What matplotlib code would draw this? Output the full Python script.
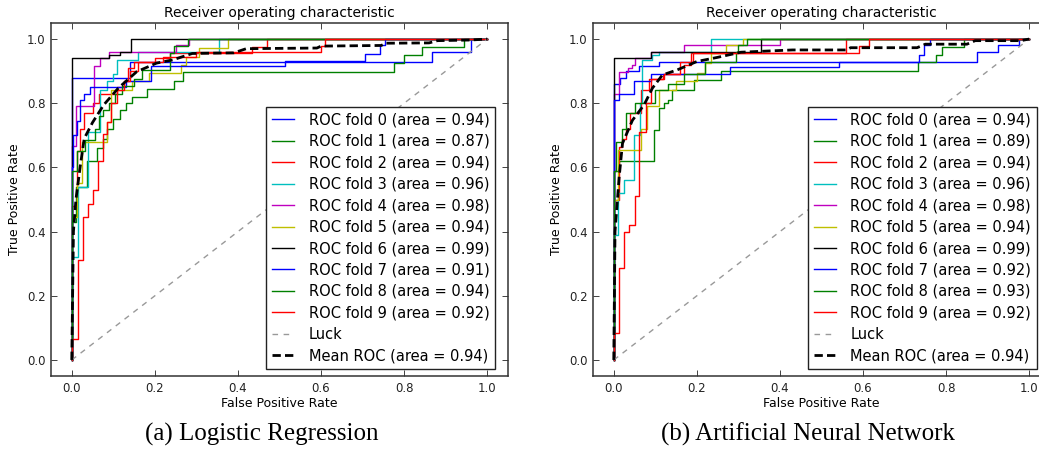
import matplotlib
matplotlib.use("Agg")
import matplotlib.pyplot as plt

W, H = 1039, 463

fold_colors = ["b", "g", "r", "c", "m", "y", "k", "b", "g", "r"]

# Logistic regression: per fold, fpr where each tpr level ends (step curves)
lr_auc = [0.94, 0.87, 0.94, 0.96, 0.98, 0.94, 0.99, 0.91, 0.94, 0.92]
lr_fpr = [
    [0.14, 0.867, 0.962, 1.0],
    [0.01, 0.036, 0.06, 0.075, 0.085, 0.10, 0.115, 0.13, 0.145, 0.18, 0.245, 0.267, 0.776, 0.80, 0.843, 0.943, 1.0],
    [0.012, 0.02, 0.03, 0.05, 0.065, 0.11, 0.125, 0.135, 0.15, 0.20, 0.236, 0.433, 0.469, 1.0],
    [0.015, 0.04, 0.067, 0.085, 0.10, 0.11, 0.16, 0.355, 1.0],
    [0.01, 0.053, 0.067, 0.09, 0.25, 0.283, 1.0],
    [0.012, 0.025, 0.085, 0.095, 0.145, 0.185, 0.264, 0.275, 0.307, 0.376, 1.0],
    [0.09, 0.117, 0.143, 1.0],
    [0.004, 0.012, 0.02, 0.03, 0.045, 0.13, 0.19, 0.514, 0.707, 0.743, 0.755, 1.0],
    [0.012, 0.033, 0.055, 0.065, 0.075, 0.09, 0.105, 0.12, 0.15, 0.17, 0.236, 0.245, 0.28, 1.0],
    [0.015, 0.028, 0.038, 0.052, 0.064, 0.075, 0.085, 0.095, 0.11, 0.125, 0.14, 0.16, 0.22, 0.30, 0.60, 0.61, 1.0],
]
lr_tpr = [
    [0.88, 0.93, 0.96, 1.0],
    [0.43, 0.54, 0.62, 0.66, 0.69, 0.72, 0.75, 0.78, 0.80, 0.82, 0.845, 0.87, 0.897, 0.925, 0.949, 0.974, 1.0],
    [0.48, 0.65, 0.72, 0.77, 0.80, 0.83, 0.85, 0.87, 0.91, 0.93, 0.94, 0.956, 0.974, 1.0],
    [0.32, 0.54, 0.71, 0.84, 0.87, 0.89, 0.935, 0.96, 1.0],
    [0.667, 0.79, 0.917, 0.94, 0.96, 0.98, 1.0],
    [0.445, 0.55, 0.68, 0.74, 0.84, 0.87, 0.894, 0.92, 0.945, 0.972, 1.0],
    [0.94, 0.95, 0.96, 1.0],
    [0.60, 0.70, 0.745, 0.81, 0.83, 0.85, 0.87, 0.915, 0.932, 0.953, 0.98, 1.0],
    [0.59, 0.65, 0.684, 0.72, 0.76, 0.78, 0.80, 0.83, 0.855, 0.875, 0.904, 0.956, 0.978, 1.0],
    [0.066, 0.31, 0.445, 0.487, 0.53, 0.62, 0.705, 0.74, 0.80, 0.84, 0.87, 0.90, 0.93, 0.945, 0.96, 0.978, 1.0],
]
lr_mean_auc = 0.94
lr_mean_fpr = [0, 0.004, 0.01, 0.02, 0.03, 0.05, 0.077, 0.112, 0.156, 0.204, 0.243, 0.29, 0.39, 0.42,
               0.59, 0.60, 0.745, 0.755, 0.86, 0.88, 0.96, 1.0]
lr_mean_tpr = [0, 0.40, 0.50, 0.60, 0.69, 0.74, 0.795, 0.847, 0.898, 0.925, 0.935, 0.955, 0.957, 0.97,
               0.972, 0.978, 0.98, 0.987, 0.988, 0.995, 0.997, 1.0]

# Artificial neural network
ann_auc = [0.94, 0.89, 0.94, 0.96, 0.98, 0.94, 0.99, 0.92, 0.93, 0.92]
ann_fpr = [
    [0.015, 0.03, 0.06, 0.108, 0.874, 0.925, 0.976, 1.0],
    [0.012, 0.097, 0.109, 0.12, 0.13, 0.141, 0.193, 0.258, 0.732, 0.776, 0.79, 0.843, 1.0],
    [0.012, 0.02, 0.03, 0.04, 0.066, 0.085, 0.118, 0.17, 0.185, 0.56, 1.0],
    [0.009, 0.025, 0.048, 0.062, 0.068, 0.091, 0.11, 0.234, 1.0],
    [0.012, 0.035, 0.043, 0.05, 0.09, 0.17, 0.40, 1.0],
    [0.01, 0.066, 0.08, 0.108, 0.149, 0.20, 0.22, 0.235, 0.27, 0.31, 1.0],
    [0.09, 0.354, 1.0],
    [0.012, 0.048, 0.089, 0.28, 0.542, 0.735, 0.747, 0.76, 1.0],
    [0.005, 0.02, 0.03, 0.05, 0.10, 0.13, 0.17, 0.22, 0.294, 0.30, 0.32, 1.0],
    [0.013, 0.025, 0.037, 0.051, 0.061, 0.077, 0.09, 0.12, 0.16, 0.19, 0.59, 0.615, 1.0],
]
ann_tpr = [
    [0.86, 0.88, 0.90, 0.915, 0.93, 0.96, 0.98, 1.0],
    [0.59, 0.62, 0.716, 0.784, 0.80, 0.81, 0.84, 0.873, 0.90, 0.927, 0.95, 0.974, 1.0],
    [0.50, 0.663, 0.69, 0.72, 0.77, 0.84, 0.875, 0.89, 0.92, 0.956, 1.0],
    [0.39, 0.52, 0.56, 0.70, 0.80, 0.935, 0.95, 0.96, 1.0],
    [0.83, 0.897, 0.91, 0.92, 0.94, 0.96, 0.98, 1.0],
    [0.497, 0.653, 0.72, 0.79, 0.84, 0.87, 0.894, 0.925, 0.956, 0.98, 1.0],
    [0.94, 0.96, 1.0],
    [0.81, 0.83, 0.87, 0.89, 0.913, 0.93, 0.95, 0.98, 1.0],
    [0.59, 0.68, 0.72, 0.77, 0.80, 0.84, 0.86, 0.89, 0.93, 0.96, 0.98, 1.0],
    [0.085, 0.287, 0.398, 0.42, 0.51, 0.71, 0.80, 0.875, 0.89, 0.93, 0.956, 0.978, 1.0],
]
ann_mean_auc = 0.94
ann_mean_fpr = [0, 0.003, 0.013, 0.021, 0.045, 0.073, 0.093, 0.117, 0.153, 0.2, 0.25, 0.306, 0.43,
                0.56, 0.57, 0.73, 0.75, 0.85, 0.87, 0.98, 1.0]
ann_mean_tpr = [0, 0.40, 0.57, 0.675, 0.747, 0.795, 0.847, 0.888, 0.904, 0.93, 0.943, 0.959, 0.966,
                0.966, 0.973, 0.973, 0.984, 0.984, 0.995, 0.995, 1.0]

captions = ["(a) Logistic Regression", "(b) Artificial Neural Network"]


def draw_roc(ax, fprs, tprs, aucs, mean_fpr, mean_tpr, mean_auc):
    for i, (f, t) in enumerate(zip(fprs, tprs)):
        ax.step([0] + f, [0] + t, where="pre", color=fold_colors[i], lw=1,
                label="ROC fold %d (area = %0.2f)" % (i, aucs[i]))
    ax.plot([0, 1], [0, 1], linestyle=(0, (4, 4)), lw=1, color=(0.6, 0.6, 0.6), label="Luck")
    ax.plot(mean_fpr, mean_tpr, color="k", linestyle=(0, (3, 1.5)), lw=2,
            label="Mean ROC (area = %0.2f)" % mean_auc)

    ax.set_xlim(-0.05, 1.05)
    ax.set_ylim(-0.05, 1.05)
    ax.set_xticks([0.0, 0.2, 0.4, 0.6, 0.8, 1.0])
    ax.set_yticks([0.0, 0.2, 0.4, 0.6, 0.8, 1.0])
    ax.tick_params(direction="in", top=True, right=True, length=4, width=0.6,
                   labelsize=8.5, pad=4, colors="#222222")
    for s in ax.spines.values():
        s.set_linewidth(1.1)
        s.set_color("#333333")
    ax.set_xlabel("False Positive Rate", fontsize=9, labelpad=2)
    ax.set_ylabel("True Positive Rate", fontsize=9, labelpad=4)
    ax.set_title("Receiver operating characteristic", fontsize=10, pad=4)
    leg = ax.legend(loc="lower right", bbox_to_anchor=(0.972, 0.02), borderaxespad=0,
                    fontsize=10.5, handlelength=1.5, handletextpad=1.0, labelspacing=0.44,
                    borderpad=0.4, fancybox=False, framealpha=1)
    leg.get_frame().set_edgecolor("#222222")
    leg.get_frame().set_linewidth(1.0)


fig = plt.figure(figsize=(W / 100, H / 100), dpi=100)
ax1 = fig.add_axes([51 / W, 87 / H, 457 / W, 353 / H])
ax2 = fig.add_axes([593 / W, 87 / H, 457 / W, 353 / H])

draw_roc(ax1, lr_fpr, lr_tpr, lr_auc, lr_mean_fpr, lr_mean_tpr, lr_mean_auc)
draw_roc(ax2, ann_fpr, ann_tpr, ann_auc, ann_mean_fpr, ann_mean_tpr, ann_mean_auc)

fig.text(262 / W, 1 - 434 / H, captions[0], ha="center", va="center",
         family="Liberation Serif", fontsize=18)
fig.text(808 / W, 1 - 434 / H, captions[1], ha="center", va="center",
         family="Liberation Serif", fontsize=18)

fig.savefig("out.png", dpi=100)
